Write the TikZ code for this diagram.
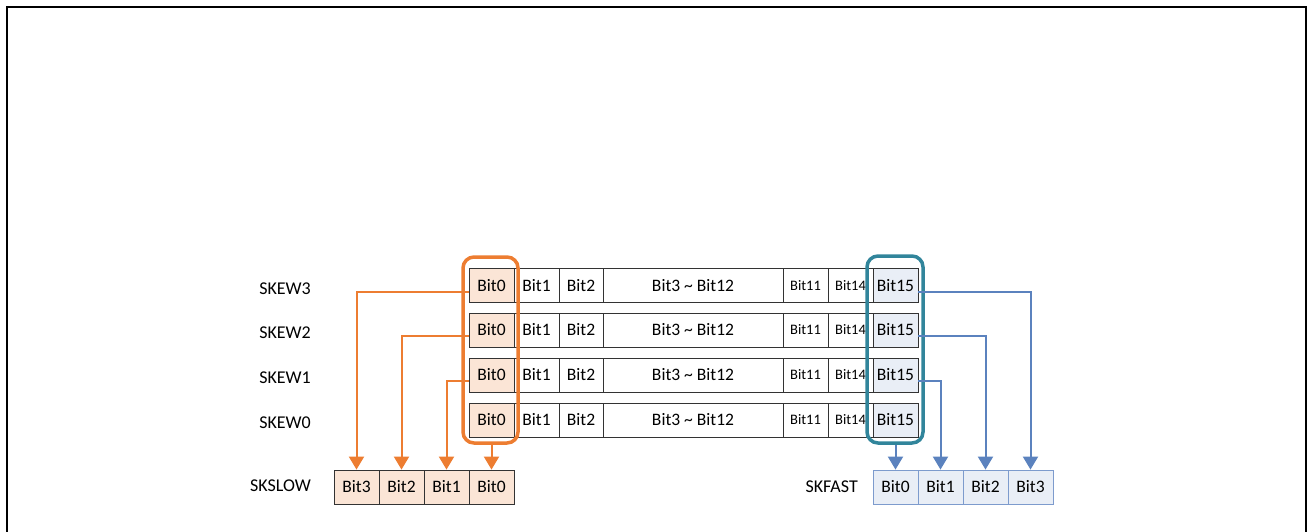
\documentclass[tikz,border=0pt]{standalone}
\usepackage{fontspec}
\setmainfont{Carlito}
\usetikzlibrary{arrows.meta,calc}
\definecolor{OrangeClr}{RGB}{237,125,49}
\definecolor{PeachClr}{RGB}{251,229,214}
\definecolor{TealClr}{RGB}{49,133,155}
\definecolor{BlueClr}{RGB}{91,130,190}
\definecolor{IceClr}{RGB}{233,238,246}
\definecolor{EdgeClr}{RGB}{125,155,205}

\begin{document}
\begin{tikzpicture}[x=1pt,y=-1pt,
  cell/.style={draw=black!80,line width=0.8pt,minimum height=34pt,inner sep=0pt,font=\fontsize{17.5}{17.5}\selectfont},
  slowcell/.style={cell,fill=PeachClr},
  fastcell/.style={cell,fill=IceClr},
  fastout/.style={cell,fill=IceClr,draw=EdgeClr},
  smallcell/.style={cell,font=\fontsize{14.5}{14.5}\selectfont},
  lbl/.style={font=\fontsize{18}{18}\selectfont,anchor=east,inner sep=0pt},
  oarrow/.style={draw=OrangeClr,line width=2pt,-{Triangle[width=15pt,length=13pt]}},
  barrow/.style={draw=BlueClr,line width=2pt,-{Triangle[width=15pt,length=13pt]}}]
\useasboundingbox (0,0) rectangle (1308,531);
\draw[line width=2pt] (7,560) -- (7,7) -- (1306,7) -- (1306,560);

\foreach \r/\y in {3/285.5,2/330,1/375,0/420}{
  \node[slowcell,minimum width=45pt] (s\r b0) at (491.5,\y) {Bit0};
  \node[cell,minimum width=45pt] (s\r b1) at (536.5,\y) {Bit1};
  \node[cell,minimum width=44pt] (s\r b2) at (581,\y) {Bit2};
  \node[cell,minimum width=180pt] (s\r mid) at (693,\y) {Bit3 \textasciitilde{} Bit12};
  \node[smallcell,minimum width=45pt] (s\r b11) at (805.5,\y) {Bit11};
  \node[smallcell,minimum width=45pt] (s\r b14) at (850.5,\y) {Bit14};
  \node[fastcell,minimum width=45pt] (s\r b15) at (895.5,\y) {Bit15};
  \node[lbl] (skew\r) at (311,\y+3) {SKEW\r};
}

\foreach \b/\x in {3/356.5,2/401.5,1/446.5,0/491.5}
  \node[slowcell,minimum width=45pt] (sl\b) at (\x,487) {Bit\b};
\foreach \b/\x in {0/895.5,1/940.5,2/985.5,3/1030.5}
  \node[fastout,minimum width=45pt] (fa\b) at (\x,487) {Bit\b};
\node[lbl] (skslow) at (311,486) {SKSLOW};
\node[lbl] (skfast) at (858,487) {SKFAST};

\node[draw=OrangeClr,line width=3.5pt,rounded corners=11pt,minimum width=55pt,minimum height=186pt] (obox) at (490.5,350) {};
\node[draw=TealClr,line width=3.5pt,rounded corners=11pt,minimum width=56pt,minimum height=187pt] (tbox) at (895,349.5) {};

\draw[oarrow] ([yshift=-6pt]s3b0.west) -| (sl3.north);
\draw[oarrow] ([yshift=-6pt]s2b0.west) -| (sl2.north);
\draw[oarrow] ([yshift=-6pt]s1b0.west) -| (sl1.north);
\draw[oarrow] (obox.south -| sl0.north) -- (sl0.north);

\draw[barrow] ([yshift=-6pt]s3b15.east) -| (fa3.north);
\draw[barrow] ([yshift=-6pt]s2b15.east) -| (fa2.north);
\draw[barrow] ([yshift=-6pt]s1b15.east) -| (fa1.north);
\draw[barrow] (tbox.south -| fa0.north) -- (fa0.north);

\end{tikzpicture}
\end{document}
